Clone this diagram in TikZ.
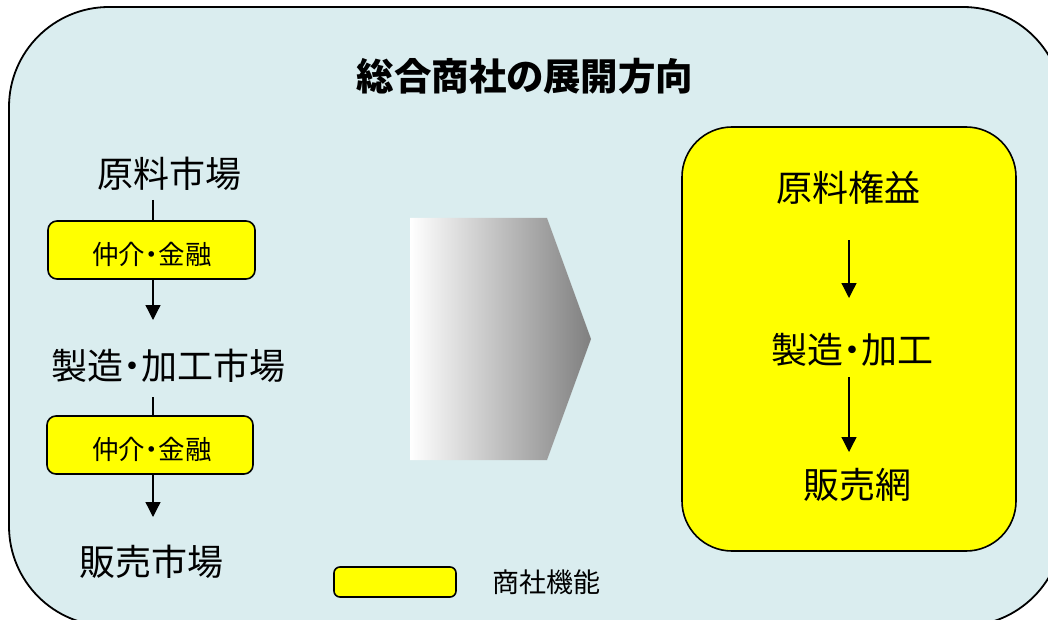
\documentclass[tikz,border=0pt]{standalone}
\usepackage{fontspec}
\setmainfont{Noto Sans CJK JP}[RawFeature=+palt]
\usetikzlibrary{arrows.meta}
\definecolor{bgblue}{RGB}{218,237,239}
\definecolor{ylw}{RGB}{255,255,0}
\tikzset{
  lbl/.style={inner sep=0pt, font=\fontsize{36}{40}\selectfont},
  small/.style={inner sep=0pt, font=\fontsize{26.5}{30}\selectfont},
  ybox/.style={draw=black, line width=1.6pt, fill=ylw, rounded corners=9pt, inner sep=0pt},
  conn/.style={line width=1.3pt},
  arr/.style={line width=1.3pt, -{Triangle[width=15pt,length=15pt]}},
}
\begin{document}
\begin{tikzpicture}[x=1pt,y=-1pt]
\useasboundingbox (0,0) rectangle (1048,620);
\begin{scope}
\clip (0,0) rectangle (1048,620);
\draw[line width=1.8pt, fill=bgblue, rounded corners=100pt] (9,7) rectangle (1063,626);
\end{scope}
% title
\node[inner sep=0pt, font=\fontsize{37.5}{40}\selectfont\bfseries] (title) at (525,76) {総合商社の展開方向};
% left column
\node[lbl] (m1) at (169,174) {原料市場};
\node[ybox, minimum width=207pt, minimum height=58pt] (b1) at (151.5,250) {};
\node[small] (t1) at (152,254) {仲介・金融};
\node[lbl] (m2) at (168,366) {製造・加工市場};
\node[ybox, minimum width=206pt, minimum height=58pt] (b2) at (150,445) {};
\node[small] (t2) at (152,449) {仲介・金融};
\node[lbl] (m3) at (151,562) {販売市場};
\coordinate (c1) at (153,200);
\coordinate (c2) at (153,320);
\coordinate (c3) at (153,397);
\coordinate (c4) at (153,517);
\draw[conn] (c1) -- (c1 |- b1.north);
\draw[arr] (c1 |- b1.south) -- (c2);
\draw[conn] (c3) -- (c3 |- b2.north);
\draw[arr] (c3 |- b2.south) -- (c4);
% middle gradient arrow
\path[left color=white, right color=black!50, shading angle=90] (410,218) -- (547,218) -- (591,339) -- (547,460) -- (410,460) -- cycle;
% right yellow panel
\node[draw=black, line width=1.6pt, fill=ylw, rounded corners=50pt, minimum width=334pt, minimum height=424pt, inner sep=0pt] (panel) at (849,339) {};
\node[lbl] (r1) at (848,188) {原料権益};
\node[lbl] (r2) at (852,350) {製造・加工};
\node[lbl] (r3) at (857,485) {販売網};
\coordinate (d1) at (849,240);
\coordinate (d2) at (849,298);
\coordinate (d3) at (849,377);
\coordinate (d4) at (849,452);
\draw[arr] (d1) -- (d2);
\draw[arr] (d3) -- (d4);
% legend
\node[ybox, rounded corners=6pt, minimum width=122pt, minimum height=30pt] (leg) at (395,582) {};
\node[inner sep=0pt, font=\fontsize{27}{30}\selectfont] (legt) at (546,582) {商社機能};
\end{tikzpicture}
\end{document}
